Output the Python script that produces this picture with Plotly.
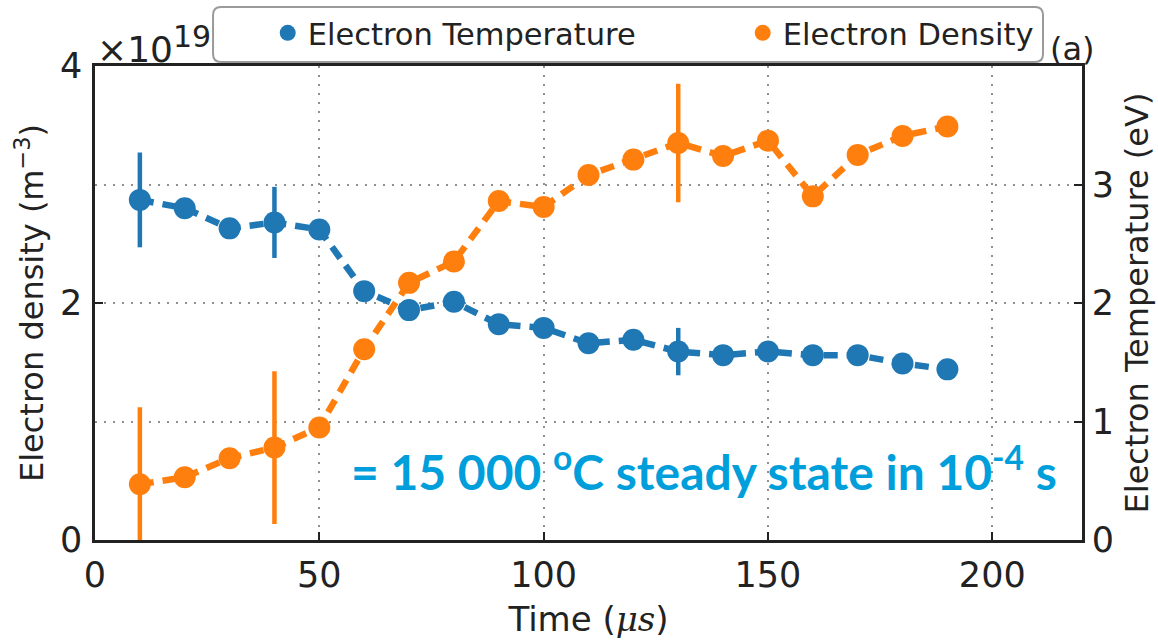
import plotly.graph_objects as go

time_us = [10, 20, 30, 40, 50, 60, 70, 80, 90, 100, 110, 120, 130, 140, 150, 160, 170, 180, 190]
temperature_eV = [2.87, 2.80, 2.63, 2.68, 2.62, 2.10, 1.94, 2.01, 1.82, 1.79, 1.66, 1.69, 1.59, 1.56, 1.59, 1.56, 1.56, 1.49, 1.44]
temperature_err = [0.40, 0, 0, 0.30, 0, 0, 0, 0, 0, 0, 0, 0, 0.20, 0, 0, 0, 0, 0, 0]
density_e19 = [0.47, 0.53, 0.69, 0.78, 0.95, 1.61, 2.17, 2.35, 2.86, 2.81, 3.08, 3.21, 3.35, 3.24, 3.37, 2.90, 3.25, 3.41, 3.49]
density_err = [0.65, 0, 0, 0.645, 0, 0, 0, 0, 0, 0, 0, 0, 0.50, 0, 0, 0, 0, 0, 0]

x_ticks = [0, 50, 100, 150, 200]
left_ticks = [0, 2, 4]
right_ticks = [0, 1, 2, 3]

BLUE = "#1f77b4"
ORANGE = "#ff7f0e"
FONT = "DejaVu Sans"
AXC = "#222222"
GRID = "#8f8f8f"

fig = go.Figure()

fig.add_trace(go.Scatter(
    x=time_us, y=density_e19, mode="lines+markers", name="Electron Density",
    line=dict(color=ORANGE, width=6.5, dash="14px,9px"),
    marker=dict(color=ORANGE, size=22),
    error_y=dict(type="data", array=density_err, visible=True, color=ORANGE, thickness=4.5, width=0),
    showlegend=False, yaxis="y",
))
fig.add_trace(go.Scatter(
    x=time_us, y=temperature_eV, mode="lines+markers", name="Electron Temperature",
    line=dict(color=BLUE, width=6.5, dash="14px,9px"),
    marker=dict(color=BLUE, size=22),
    error_y=dict(type="data", array=temperature_err, visible=True, color=BLUE, thickness=4.5, width=0),
    showlegend=False, yaxis="y2",
))
# legend entries (markers only)
fig.add_trace(go.Scatter(x=[None], y=[None], mode="markers", name="Electron Temperature",
                         marker=dict(color=BLUE, size=23), legendrank=1))
fig.add_trace(go.Scatter(x=[None], y=[None], mode="markers", name="Electron Density",
                         marker=dict(color=ORANGE, size=23), legendrank=2))

# legend frame (rounded rectangle, paper coords)
x0, x1, y0, y1 = 0.1196, 0.9605, 1.0084, 1.1245
rx, ry = 0.008, 0.017
frame_path = (
    f"M {x0+rx},{y0} L {x1-rx},{y0} Q {x1},{y0} {x1},{y0+ry} "
    f"L {x1},{y1-ry} Q {x1},{y1} {x1-rx},{y1} L {x0+rx},{y1} "
    f"Q {x0},{y1} {x0},{y1-ry} L {x0},{y0+ry} Q {x0},{y0} {x0+rx},{y0} Z"
)

fig.update_layout(
    width=1158, height=644,
    margin=dict(l=95, r=76, t=66, b=104, autoexpand=False),
    paper_bgcolor="white", plot_bgcolor="white",
    font=dict(family=FONT, size=30, color=AXC),
    xaxis=dict(
        range=[0, 220], tickvals=x_ticks, ticks="inside", ticklen=8, tickwidth=1.5,
        tickcolor=AXC, showline=True, linecolor=AXC, linewidth=2.5, mirror=True,
        showgrid=True, gridcolor=GRID, griddash="2px,7px", gridwidth=2,
        zeroline=False, tickfont=dict(size=35), ticklabelstandoff=2, automargin=False,
        title=dict(text='Time (<i><span style="font-family:DejaVu Serif">μs</span></i>)',
                   font=dict(size=34), standoff=14),
    ),
    yaxis=dict(
        range=[0, 4], tickvals=left_ticks, ticks="inside", ticklen=8, tickwidth=1.5,
        tickcolor=AXC, showline=True, linecolor=AXC, linewidth=2.5, mirror=True,
        showgrid=False, zeroline=False, tickfont=dict(size=35), ticklabelstandoff=3,
        automargin=False,
        title=dict(text="Electron density (m<sup>−3</sup>)", font=dict(size=32), standoff=7),
    ),
    yaxis2=dict(
        range=[0, 4], tickvals=right_ticks, overlaying="y", side="right", ticks="inside",
        ticklen=8, tickwidth=1.5, tickcolor=AXC, showline=True, linecolor=AXC, linewidth=2.5,
        showgrid=True, gridcolor=GRID, griddash="2px,7px", gridwidth=2, zeroline=False,
        tickfont=dict(size=35), ticklabelstandoff=0, automargin=False,
        title=dict(text="Electron Temperature (eV)", font=dict(size=32), standoff=13),
    ),
    legend=dict(
        orientation="h", x=0.175, xanchor="left", y=1.0696, yanchor="middle",
        bgcolor="rgba(0,0,0,0)", borderwidth=0,
        font=dict(size=30.5, color=AXC), entrywidth=430, itemsizing="trace",
    ),
    shapes=[dict(type="path", path=frame_path, xref="paper", yref="paper",
                 line=dict(color="#9a9a9a", width=2), fillcolor="white", layer="below")],
    annotations=[
        dict(text='×10<sup><span style="font-size:30px">19</span></sup>', x=0, xref="paper",
             y=1.0, yref="paper", xanchor="left", yanchor="bottom", showarrow=False,
             xshift=0, yshift=-6, font=dict(size=36, color=AXC, family=FONT)),
        dict(text="(a)", x=0.9656, xref="paper", y=1.0, yref="paper",
             xanchor="left", yanchor="bottom", showarrow=False, yshift=-4,
             font=dict(size=32, color=AXC, family=FONT)),
        dict(text="= 15 000 <sup>o</sup>C steady state in 10<sup>-4</sup> s",
             x=135.7, xref="x", y=0.605, yref="y", showarrow=False,
             xanchor="center", yanchor="middle",
             font=dict(size=48, color="#009fdb", family="Lato", weight="bold")),
    ],
)

fig.write_html("out.html", config={"displayModeBar": False},
               post_script="document.body.style.margin='0px';")
